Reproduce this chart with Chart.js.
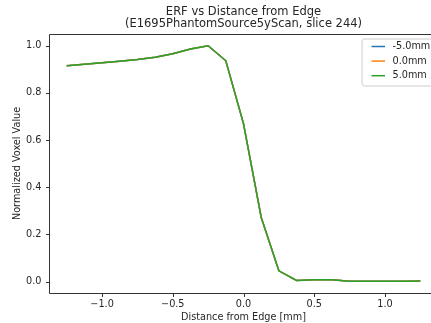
<!DOCTYPE html>
<html>
<head>
<meta charset="utf-8">
<script src="https://cdn.jsdelivr.net/npm/chart.js@4"></script>
<style>
html,body{margin:0;padding:0;background:#fff;overflow:hidden;width:431px;height:323px;}
#wrap{position:relative;width:431px;height:323px;overflow:hidden;}
canvas{display:block;}
</style>
</head>
<body>
<div id="wrap"><canvas id="c" width="440" height="323"></canvas></div>
<script>
const distances = [-1.25,-1.125,-1.0,-0.875,-0.75,-0.625,-0.5,-0.375,-0.25,-0.125,0,0.125,0.25,0.375,0.5,0.625,0.75,0.875,1.0,1.125,1.25];
const erfMinus5 = [0.915,0.921,0.928,0.934,0.941,0.951,0.966,0.986,1.0,0.936,0.670,0.273,0.046,0.005,0.008,0.008,0.002,0.002,0.002,0.002,0.003];
const erfZero   = [0.915,0.921,0.928,0.934,0.941,0.951,0.966,0.986,1.0,0.936,0.670,0.273,0.046,0.005,0.008,0.008,0.002,0.002,0.002,0.002,0.003];
const erfPlus5  = [0.915,0.921,0.928,0.934,0.941,0.951,0.966,0.986,1.0,0.936,0.670,0.273,0.046,0.005,0.008,0.008,0.002,0.002,0.002,0.002,0.003];
const seriesLabels = ['-5.0mm','0.0mm','5.0mm'];
const seriesColors = ['#1f77b4','#ff7f0e','#2ca02c'];
const xTickValues = [-1.0,-0.5,0.0,0.5,1.0];
const xTickLabels = ['\u22121.0','\u22120.5','0.0','0.5','1.0'];
const yTickValues = [0.0,0.2,0.4,0.6,0.8,1.0];
const yTickLabels = ['0.0','0.2','0.4','0.6','0.8','1.0'];
const titleLines = ['ERF vs Distance from Edge','(E1695PhantomSource5yScan, slice 244)'];
const xAxisLabel = 'Distance from Edge [mm]';
const yAxisLabel = 'Normalized Voxel Value';

const FONT = 'DejaVu Sans';
const TXT = '#262626';
const AXC = '#333333';
const seriesData = [erfMinus5, erfZero, erfPlus5];

const mk = (vals) => distances.map((x,i)=>({x:x,y:vals[i]}));

// axes box: the right part lies beyond the 431px view, as in the cropped original
const frame = {
  id:'frame',
  afterDatasetsDraw(chart){
    const {ctx, chartArea:a, scales} = chart;
    ctx.save();
    ctx.strokeStyle = AXC;
    ctx.lineWidth = 1;
    const l = Math.round(a.left)+0.5, t = Math.round(a.top)+0.5, b = Math.round(a.bottom)+0.5, r = Math.round(a.right)+0.5;
    ctx.beginPath();
    ctx.rect(l, t, r - l, b - t);
    scales.x.ticks.forEach(tk=>{
      const px = Math.round(scales.x.getPixelForValue(tk.value))+0.5;
      ctx.moveTo(px, b); ctx.lineTo(px, b+3.5);
    });
    scales.y.ticks.forEach(tk=>{
      const py = Math.round(scales.y.getPixelForValue(tk.value))+0.5;
      ctx.moveTo(l, py); ctx.lineTo(l-3.5, py);
    });
    ctx.stroke();
    ctx.restore();
  }
};

const legendBox = {
  id:'legendBox',
  afterDraw(chart){
    const {ctx, chartArea:a} = chart;
    const ds = chart.data.datasets;
    const x0 = 362, y0 = 39, w = a.right - 5 - 362, h = 47;
    ctx.save();
    ctx.beginPath();
    const r = 2.5;
    ctx.moveTo(x0+r,y0); ctx.lineTo(x0+w-r,y0); ctx.quadraticCurveTo(x0+w,y0,x0+w,y0+r);
    ctx.lineTo(x0+w,y0+h-r); ctx.quadraticCurveTo(x0+w,y0+h,x0+w-r,y0+h);
    ctx.lineTo(x0+r,y0+h); ctx.quadraticCurveTo(x0,y0+h,x0,y0+h-r);
    ctx.lineTo(x0,y0+r); ctx.quadraticCurveTo(x0,y0,x0+r,y0);
    ctx.closePath();
    ctx.fillStyle = 'rgba(255,255,255,0.8)';
    ctx.fill();
    ctx.strokeStyle = '#cccccc';
    ctx.lineWidth = 1;
    ctx.stroke();
    ctx.font = '9.7px "' + FONT + '"';
    ctx.textBaseline = 'middle';
    ctx.textAlign = 'left';
    ds.forEach((d,i)=>{
      const y = 46.5 + i*14.6;
      ctx.strokeStyle = d.borderColor;
      ctx.lineWidth = 1.5;
      ctx.beginPath(); ctx.moveTo(371.5,y); ctx.lineTo(385,y); ctx.stroke();
      ctx.fillStyle = TXT;
      ctx.fillText(d.label, 392.5, y);
    });
    ctx.restore();
  }
};

new Chart(document.getElementById('c'), {
  type:'line',
  data:{
    datasets: seriesLabels.map((lab,i)=>({
      label: lab,
      data: mk(seriesData[i]),
      borderColor: seriesColors[i],
      backgroundColor: seriesColors[i],
      borderWidth: 1.5,
      pointRadius: 0,
      tension: 0,
      fill: false,
      order: 2 - i
    }))
  },
  options:{
    responsive:false,
    animation:false,
    devicePixelRatio:1,
    layout:{padding:{left:0,right:2,top:0,bottom:0}},
    plugins:{
      legend:{display:false},
      tooltip:{enabled:false},
      title:{
        display:true,
        text:titleLines,
        fullSize:false,
        color:TXT,
        font:{family:FONT,size:11.5,weight:'normal',lineHeight:1.04},
        padding:{top:6.5,bottom:3.5}
      }
    },
    scales:{
      x:{
        type:'linear',
        min:-1.375, max:1.375,
        afterBuildTicks(s){ s.ticks = xTickValues.map(v=>({value:v})); },
        afterFit(s){ s.height = 30; },
        ticks:{
          color:TXT, font:{family:FONT,size:9.7}, padding:5.5,
          maxRotation:0, autoSkip:false,
          callback:(v,i)=>xTickLabels[i]
        },
        grid:{display:false, drawTicks:false},
        border:{display:false},
        title:{display:true, text:xAxisLabel, color:TXT, font:{family:FONT,size:9.7,lineHeight:1.2}, padding:{top:0,bottom:0}}
      },
      y:{
        type:'linear',
        min:-0.048, max:1.0499,
        afterBuildTicks(s){ s.ticks = yTickValues.map(v=>({value:v})); },
        afterFit(s){ s.width = 49; },
        ticks:{
          color:TXT, font:{family:FONT,size:9.7}, padding:7.5,
          autoSkip:false,
          callback:(v,i)=>yTickLabels[i]
        },
        grid:{display:false, drawTicks:false},
        border:{display:false},
        title:{display:true, text:yAxisLabel, color:TXT, font:{family:FONT,size:9.7,lineHeight:1.2}, padding:{top:11.2,bottom:0}}
      }
    }
  },
  plugins:[frame, legendBox]
});
</script>
</body>
</html>
